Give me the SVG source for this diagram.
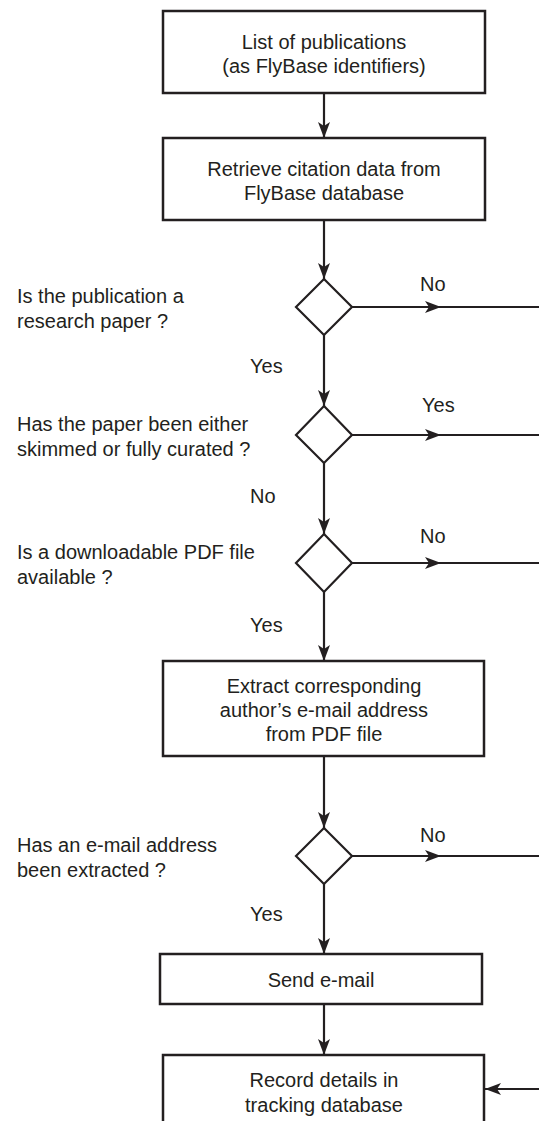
<svg xmlns="http://www.w3.org/2000/svg" width="539" height="1121" viewBox="0 0 539 1121">
<style>
text{font-family:"Liberation Sans",Arial,sans-serif;font-size:20px;fill:#231f20}
.c{text-anchor:middle}
.box{fill:#fff;stroke:#231f20;stroke-width:2.5}
.dia{fill:#fff;stroke:#231f20;stroke-width:2.2}
.ln{fill:none;stroke:#231f20;stroke-width:2.2}
</style>
<defs>
<marker id="ah" viewBox="0 0 16 12" refX="16" refY="6" markerWidth="16" markerHeight="12" markerUnits="userSpaceOnUse" orient="auto">
<path d="M0,0 L16,6 L0,12 L4,6 Z" fill="#231f20"/>
</marker>
<marker id="am" viewBox="0 0 16 12" refX="8" refY="6" markerWidth="16" markerHeight="12" markerUnits="userSpaceOnUse" orient="auto">
<path d="M0,0 L16,6 L0,12 L4,6 Z" fill="#231f20"/>
</marker>
</defs>
<g id="connectors">
<line class="ln" x1="324" y1="93" x2="324" y2="138" marker-end="url(#ah)"/>
<line class="ln" x1="324" y1="220" x2="324" y2="279" marker-end="url(#ah)"/>
<line class="ln" x1="324" y1="335" x2="324" y2="406" marker-end="url(#ah)"/>
<line class="ln" x1="324" y1="463" x2="324" y2="534" marker-end="url(#ah)"/>
<line class="ln" x1="324" y1="592" x2="324" y2="661" marker-end="url(#ah)"/>
<line class="ln" x1="324" y1="756" x2="324" y2="828" marker-end="url(#ah)"/>
<line class="ln" x1="324" y1="884" x2="324" y2="954" marker-end="url(#ah)"/>
<line class="ln" x1="324" y1="1004" x2="324" y2="1055" marker-end="url(#ah)"/>
<polyline class="ln" points="352,307 433,307 539,307" marker-mid="url(#am)"/>
<polyline class="ln" points="352,435 433,435 539,435" marker-mid="url(#am)"/>
<polyline class="ln" points="352,563 433,563 539,563" marker-mid="url(#am)"/>
<polyline class="ln" points="352,856 433,856 539,856" marker-mid="url(#am)"/>
<line class="ln" x1="539" y1="1089" x2="485" y2="1089" marker-end="url(#ah)"/>
<text x="420" y="291">No</text>
<text x="250" y="373">Yes</text>
<text x="422" y="412">Yes</text>
<text x="250" y="503">No</text>
<text x="420" y="543">No</text>
<text x="250" y="632">Yes</text>
<text x="420" y="842">No</text>
<text x="250" y="921">Yes</text>
</g>
<g id="n1">
<rect class="box" x="163" y="11" width="322" height="82"/>
<text class="c" x="324" y="49">List of publications</text>
<text class="c" x="324" y="73">(as FlyBase identifiers)</text>
</g>
<g id="n2">
<rect class="box" x="163" y="138" width="322" height="82"/>
<text class="c" x="324" y="176">Retrieve citation data from</text>
<text class="c" x="324" y="200">FlyBase database</text>
</g>
<g id="d1">
<polygon class="dia" points="324,279 352,307 324,335 296,307"/>
<text x="17" y="303">Is the publication a</text>
<text x="17" y="328">research paper ?</text>
</g>
<g id="d2">
<polygon class="dia" points="324,406 352,435 324,463 296,435"/>
<text x="17" y="431">Has the paper been either</text>
<text x="17" y="456">skimmed or fully curated ?</text>
</g>
<g id="d3">
<polygon class="dia" points="324,534 352,563 324,592 296,563"/>
<text x="17" y="559">Is a downloadable PDF file</text>
<text x="17" y="584">available ?</text>
</g>
<g id="n3">
<rect class="box" x="163" y="661" width="321" height="95"/>
<text class="c" x="324" y="693">Extract corresponding</text>
<text class="c" x="324" y="717">author’s e-mail address</text>
<text class="c" x="324" y="741">from PDF file</text>
</g>
<g id="d4">
<polygon class="dia" points="324,828 352,856 324,884 296,856"/>
<text x="17" y="852">Has an e-mail address</text>
<text x="17" y="877">been extracted ?</text>
</g>
<g id="n4">
<rect class="box" x="160" y="954" width="322" height="50"/>
<text class="c" x="321" y="987">Send e-mail</text>
</g>
<g id="n5">
<rect class="box" x="163" y="1055" width="321" height="80"/>
<text class="c" x="324" y="1087">Record details in</text>
<text class="c" x="324" y="1112">tracking database</text>
</g>
</svg>
